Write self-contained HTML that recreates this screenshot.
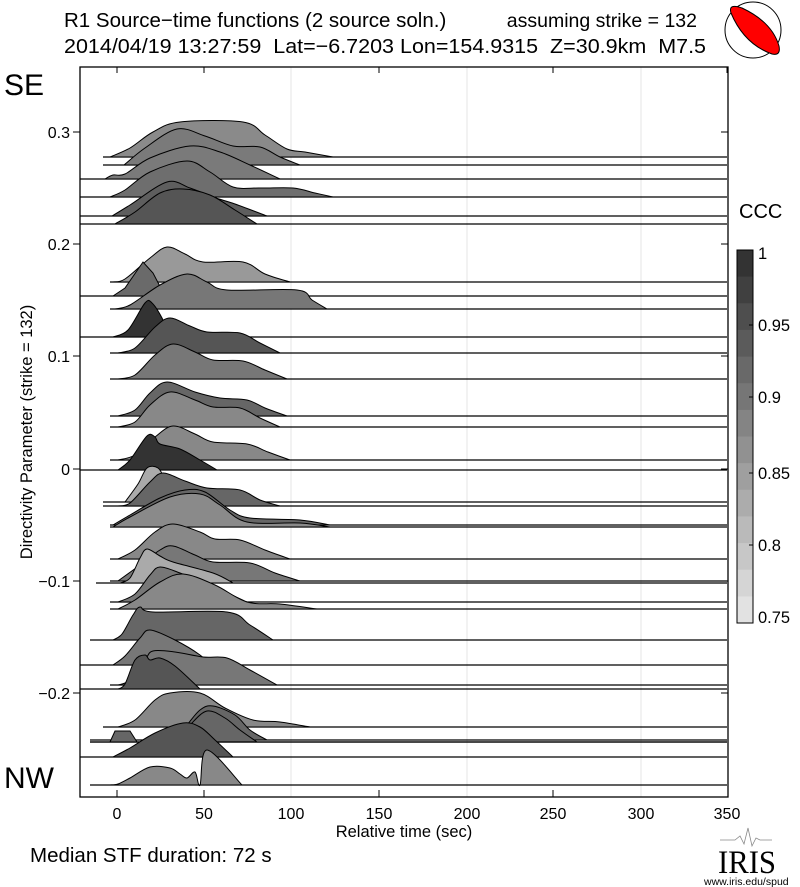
<!DOCTYPE html>
<html><head><meta charset="utf-8"><style>
body{margin:0;background:#fff;}
svg{display:block;font-family:"Liberation Sans",sans-serif;}
</style></head><body>
<svg id="s" width="800" height="887" viewBox="0 0 800 887" xmlns="http://www.w3.org/2000/svg">
<rect width="800" height="887" fill="#fff"/>
<text x="64" y="27" font-size="20.5" style="white-space:pre" xml:space="preserve">R1 Source−time functions (2 source soln.)</text>
<text x="697" y="27" font-size="19.5" text-anchor="end">assuming strike = 132</text>
<text x="64" y="53" font-size="20.5" style="white-space:pre" xml:space="preserve" textLength="642" lengthAdjust="spacingAndGlyphs">2014/04/19 13:27:59  Lat=−6.7203 Lon=154.9315  Z=30.9km  M7.5</text>
<circle cx="753" cy="30" r="28" fill="#fff" stroke="#000" stroke-width="1"/>
<path d="M731,13 Q728,3 742,8 Q772,22 779,46 Q781,56 772,54 Q744,44 731,13 Z" fill="#f00" stroke="#000" stroke-width="1"/>
<text x="4" y="95" font-size="30">SE</text>
<text x="4" y="788" font-size="30">NW</text>
<g stroke="#e4e4e4" stroke-width="1">
<line x1="291" y1="67" x2="291" y2="797"/><line x1="467" y1="67" x2="467" y2="797"/><line x1="641" y1="67" x2="641" y2="797"/>
</g>
<g id="tr"></g>
<rect x="80" y="67" width="648" height="730" fill="none" stroke="#000" stroke-width="1.3"/>
<g stroke="#000" stroke-width="1">
<line x1="117" y1="67" x2="117" y2="73"/><line x1="204" y1="67" x2="204" y2="73"/><line x1="379" y1="67" x2="379" y2="73"/><line x1="553" y1="67" x2="553" y2="73"/><line x1="727" y1="67" x2="727" y2="73"/>
<line x1="117" y1="797" x2="117" y2="790"/><line x1="204" y1="797" x2="204" y2="790"/><line x1="379" y1="797" x2="379" y2="790"/><line x1="553" y1="797" x2="553" y2="790"/>
<line x1="73" y1="132" x2="80" y2="132"/><line x1="73" y1="244" x2="80" y2="244"/><line x1="73" y1="356" x2="80" y2="356"/><line x1="73" y1="469" x2="80" y2="469"/><line x1="73" y1="581" x2="80" y2="581"/><line x1="73" y1="693" x2="80" y2="693"/>
<line x1="721" y1="132" x2="728" y2="132"/><line x1="721" y1="244" x2="728" y2="244"/><line x1="721" y1="356" x2="728" y2="356"/><line x1="721" y1="469" x2="728" y2="469"/><line x1="721" y1="581" x2="728" y2="581"/><line x1="721" y1="693" x2="728" y2="693"/>
</g>
<g font-size="16" text-anchor="end">
<text x="70" y="138">0.3</text><text x="70" y="250">0.2</text><text x="70" y="362">0.1</text><text x="70" y="475">0</text><text x="70" y="587">−0.1</text><text x="70" y="699">−0.2</text>
</g>
<g font-size="16" text-anchor="middle">
<text x="117" y="819">0</text><text x="204" y="819">50</text><text x="291" y="819">100</text><text x="379" y="819">150</text><text x="467" y="819">200</text><text x="553" y="819">250</text><text x="641" y="819">300</text><text x="727" y="819">350</text>
</g>
<text x="404" y="837" font-size="16.5" text-anchor="middle">Relative time (sec)</text>
<text x="32" y="432" font-size="16.5" text-anchor="middle" transform="rotate(-90 32 432)">Directivity Parameter (strike = 132)</text>
<text x="30" y="862" font-size="20.5">Median STF duration: 72 s</text>
<text x="739" y="218" font-size="20">CCC</text>
<g id="cb"></g>
<rect x="737" y="250" width="16" height="373" fill="none" stroke="#000" stroke-width="1"/>
<g font-size="16.5">
<text x="758" y="259">1</text><text x="758" y="331">0.95</text><text x="758" y="403">0.9</text><text x="758" y="479">0.85</text><text x="758" y="551">0.8</text><text x="758" y="623">0.75</text>
</g>
<g stroke="#000"><line x1="753" y1="325" x2="749" y2="325"/><line x1="753" y1="397" x2="749" y2="397"/><line x1="753" y1="473" x2="749" y2="473"/><line x1="753" y1="545" x2="749" y2="545"/></g>
<path d="M720,840 L735,840 L740,836 L744,844 L748,828 L752,846 L756,838 L760,840 L772,840" fill="none" stroke="#888" stroke-width="0.8"/>
<text x="718" y="873" font-size="33" font-family="Liberation Serif,serif" textLength="58" lengthAdjust="spacingAndGlyphs">IRIS</text>
<text x="704" y="885" font-size="10.5">www.iris.edu/spud</text>
</svg>
<script>
var T=[
[157,103,"#8a8a8a",[[110,157],[130,148],[153,132],[180,122],[243,122],[265,135],[287,149],[305,152],[333,157]]],
[165,103,"#7a7a7a",[[124,165],[145,148],[177,129],[205,136],[233,146],[260,147],[280,157],[300,165]]],
[179,80,"#7a7a7a",[[105,179],[113,175],[125,174],[150,158],[190,146],[220,152],[250,165],[280,179]]],
[197,80,"#6e6e6e",[[110,197],[125,190],[150,172],[187,161],[210,172],[233,187],[260,188],[293,188],[315,193],[333,197]]],
[216,80,"#5e5e5e",[[112,216],[130,205],[167,182],[190,188],[213,197],[235,204],[267,216]]],
[224,80,"#555555",[[115,224],[135,212],[160,193],[183,189],[210,195],[235,210],[257,224]]],
[282,110,"#999999",[[113,282],[125,279],[150,258],[167,247],[185,254],[203,262],[243,262],[265,274],[290,282]]],
[296,80,"#6a6a6a",[[113,296],[125,288],[143,262],[153,273],[165,296]]],
[309,110,"#777777",[[115,309],[130,305],[160,285],[187,274],[207,282],[227,290],[297,290],[312,300],[327,309]]],
[337,80,"#333333",[[113,337],[128,330],[145,303],[152,303],[162,318],[170,337]]],
[353,110,"#555555",[[118,353],[135,348],[155,327],[170,318],[190,326],[207,332],[240,333],[260,343],[280,353]]],
[379,110,"#777777",[[118,379],[135,375],[155,355],[173,344],[195,352],[213,360],[243,361],[265,370],[287,379]]],
[416,110,"#666666",[[118,416],[135,410],[150,393],[167,382],[195,392],[220,398],[247,400],[265,408],[287,416]]],
[427,110,"#888888",[[118,427],[135,422],[150,405],[170,392],[195,400],[213,407],[240,408],[260,418],[280,427]]],
[460,110,"#888888",[[118,460],[135,455],[155,437],[173,426],[195,434],[213,442],[247,444],[268,452],[290,460]]],
[470,80,"#333333",[[118,470],[130,460],[147,436],[155,437],[160,444],[180,449],[200,460],[217,470]]],
[502,103,"#aaaaaa",[[125,502],[138,484],[147,468],[158,468],[165,480],[175,502]]],
[506,103,"#666666",[[118,506],[130,503],[150,482],[163,473],[185,481],[207,488],[240,490],[260,500],[280,506]]],
[525,110,"#666666",[[113,525],[130,515],[160,498],[185,490],[205,492],[230,510],[250,518],[300,520],[330,525]]],
[527,110,"#8a8a8a",[[113,527],[130,517],[170,497],[200,494],[220,505],[247,522],[300,523],[330,527]]],
[559,110,"#888888",[[118,559],[135,550],[155,532],[173,524],[200,532],[215,539],[240,540],[265,550],[290,559]]],
[581,110,"#777777",[[118,581],[140,565],[160,550],[173,546],[195,555],[213,562],[250,563],[275,573],[300,581]]],
[583,96,"#aaaaaa",[[120,583],[130,578],[140,558],[147,549],[160,556],[173,562],[213,573],[233,583]]],
[602,110,"#777777",[[118,602],[135,594],[150,575],[160,567],[180,573],[210,585],[247,602]]],
[609,110,"#888888",[[118,609],[135,600],[160,582],[183,574],[215,585],[247,602],[280,604],[317,609]]],
[640,90,"#666666",[[113,640],[122,634],[133,615],[140,607],[153,612],[227,612],[250,625],[273,640]]],
[665,80,"#777777",[[113,665],[125,656],[140,638],[150,630],[175,640],[200,655],[210,665]]],
[685,110,"#777777",[[118,685],[130,680],[145,660],[153,651],[175,652],[203,657],[227,658],[250,670],[277,685]]],
[689,80,"#555555",[[118,689],[125,684],[135,660],[145,655],[150,660],[160,658],[175,666],[200,689]]],
[727,103,"#888888",[[118,727],[135,720],[155,700],[170,693],[200,693],[225,708],[253,720],[280,722],[310,727]]],
[740,90,"#666666",[[170,740],[185,727],[200,710],[213,706],[235,715],[250,730],[267,740]]],
[742,90,"#666666",[[175,742],[190,725],[207,711],[225,718],[240,730],[257,742]]],
[742,90,"#666666",[[110,742],[115,731],[130,731],[137,742]]],
[757,80,"#555555",[[113,757],[130,748],[155,733],[183,723],[200,727],[215,740],[233,757]]],
[785,90,"#888888",[[110,785],[118,784],[130,778],[150,767],[170,768],[180,774],[187,778],[195,772],[200,785],[207,750],[242,785]]]
];
var ns="http://www.w3.org/2000/svg",g=document.getElementById("tr");
function smooth(p){var d="M"+p[0][0]+","+p[0][1];for(var i=0;i<p.length-1;i++){var p0=p[i-1]||p[i],p1=p[i],p2=p[i+1],p3=p[i+2]||p2;
var c1x=p1[0]+(p2[0]-p0[0])/6,c1y=p1[1]+(p2[1]-p0[1])/6,c2x=p2[0]-(p3[0]-p1[0])/6,c2y=p2[1]-(p3[1]-p1[1])/6;
d+=" C"+c1x.toFixed(1)+","+c1y.toFixed(1)+" "+c2x.toFixed(1)+","+c2y.toFixed(1)+" "+p2[0]+","+p2[1];}return d;}
T.forEach(function(t){var b=t[0];
var l=document.createElementNS(ns,"line");l.setAttribute("x1",t[1]);l.setAttribute("x2",727);l.setAttribute("y1",b);l.setAttribute("y2",b);l.setAttribute("stroke","#000");l.setAttribute("stroke-width","1.2");g.appendChild(l);
var p=document.createElementNS(ns,"path");var sharp=t[3].length<6;
var d=sharp?("M"+t[3].map(function(q){return q.join(",")}).join(" L")):smooth(t[3]);
p.setAttribute("d",d+" Z");p.setAttribute("fill",t[2]);p.setAttribute("stroke","#000");p.setAttribute("stroke-width","1");g.appendChild(p);});
var cb=document.getElementById("cb");
for(var i=0;i<14;i++){var r=document.createElementNS(ns,"rect");var h=373/14;r.setAttribute("x",737);r.setAttribute("y",(250+i*h).toFixed(1));r.setAttribute("width",16);r.setAttribute("height",(h+0.5).toFixed(1));
var v=Math.round(0x33+(0xe2-0x33)*i/13);var c="rgb("+v+","+v+","+v+")";r.setAttribute("fill",c);cb.appendChild(r);}
</script>
</body></html>
